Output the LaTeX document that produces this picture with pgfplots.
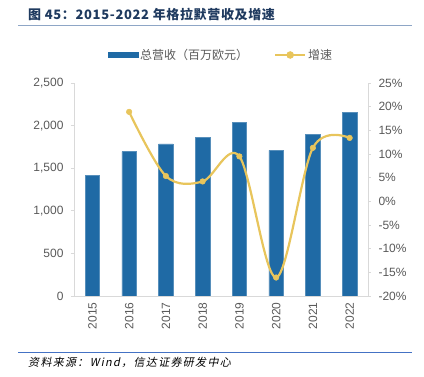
\documentclass[border=0pt]{standalone}
\usepackage{pgfplots}
\pgfplotsset{compat=1.18}
\usepackage{fontspec}
\setmainfont{Liberation Sans}
\newfontfamily\cjk{Noto Sans CJK SC}
\newfontfamily\cjktitle[LetterSpace=5]{Noto Sans CJK SC}
\newfontfamily\cjkit[FakeSlant=0.2, LetterSpace=12]{Noto Sans CJK SC}
\definecolor{barblue}{HTML}{1F6AA5}
\definecolor{lineyellow}{HTML}{E8C55C}
\definecolor{axisgray}{HTML}{D9D9D9}
\definecolor{labelgray}{HTML}{595959}
\definecolor{titlecol}{HTML}{1F3A5F}
\definecolor{titleline}{HTML}{8EA6C6}
\definecolor{srcline}{HTML}{4472C4}
\begin{document}
\begin{tikzpicture}[x=1pt,y=1pt]
\path[use as bounding box] (0,0) rectangle (424,377);
\node[anchor=west, text=titlecol, font=\cjktitle\bfseries\fontsize{13}{15}\selectfont, inner sep=0pt] at (28,363) {图 45：2015-2022 年格拉默营收及增速};
\draw[titleline, line width=1pt] (18,351) -- (412,351);

\begin{axis}[
  at={(74pt,81pt)}, anchor=south west, scale only axis,
  width=294pt, height=213pt,
  xmin=-0.5, xmax=7.5, ymin=0, ymax=2500,
  axis x line*=bottom, axis y line*=left,
  axis line style={draw=axisgray, line width=0.8pt, -},
  xtick={0,...,7}, xticklabels={2015,2016,2017,2018,2019,2020,2021,2022},
  x tick label style={rotate=90, anchor=east, font=\fontsize{12}{14}\selectfont, text=labelgray, yshift=0pt},
  xtick style={draw=none},
  ytick={0,500,1000,1500,2000,2500},
  yticklabels={0,500,{1,000},{1,500},{2,000},{2,500}},
  y tick label style={font=\fontsize{12}{14}\selectfont, text=labelgray, xshift=-4pt},
  ytick style={draw=axisgray, line width=0.8pt},
  tick align=outside, major tick length=3pt,
  ybar, bar width=14.5pt,
]
\addplot[fill=barblue, draw=barblue!75!white, line width=0.4pt] coordinates {
(0,1420) (1,1694) (2,1784) (3,1858) (4,2039) (5,1710) (6,1901) (7,2156)};
\end{axis}

\begin{axis}[
  at={(74pt,81pt)}, anchor=south west, scale only axis,
  width=294pt, height=213pt,
  xmin=-0.5, xmax=7.5, ymin=-20, ymax=25,
  axis x line=none, axis y line*=right,
  axis line style={draw=axisgray, line width=0.8pt, -},
  ytick={-20,-15,...,25},
  yticklabels={-20\%,-15\%,-10\%,-5\%,0\%,5\%,10\%,15\%,20\%,25\%},
  y tick label style={font=\fontsize{12}{14}\selectfont, text=labelgray, xshift=4pt},
  ytick style={draw=axisgray, line width=0.8pt},
  tick align=outside, major tick length=3pt,
  legend columns=2,
  legend style={at={(0.5,1)}, anchor=center, yshift=28pt, draw=none, fill=none,
    font=\cjk\fontsize{12}{14}\selectfont, text=labelgray,
    /tikz/every even column/.append style={column sep=24pt}},
]
\addlegendimage{legend image code/.code={\fill[barblue] (0pt,-2.5pt) rectangle (30pt,2.5pt);}}
\addlegendentry{总营收（百万欧元）}
\addplot[lineyellow, line width=2.2pt, smooth, tension=0.55, mark=*, mark size=2.8pt,
  mark options={fill=lineyellow, draw=lineyellow, line width=0.5pt},
  legend image code/.code={\draw[lineyellow, line width=2pt] (0pt,0pt) -- (30pt,0pt); \fill[lineyellow] (15pt,0pt) circle (2.6pt);}]
  coordinates {(1,18.9) (2,5.35) (3,4.2) (4,9.5) (5,-16.1) (6,11.3) (7,13.4)};
\addlegendentry{增速}
\end{axis}

\draw[srcline, line width=0.8pt] (18,25) -- (412,25);
\node[anchor=west, font=\cjkit\fontsize{11}{13}\selectfont, inner sep=0pt] at (28,15) {资料来源：Wind，信达证券研发中心};
\end{tikzpicture}
\end{document}
